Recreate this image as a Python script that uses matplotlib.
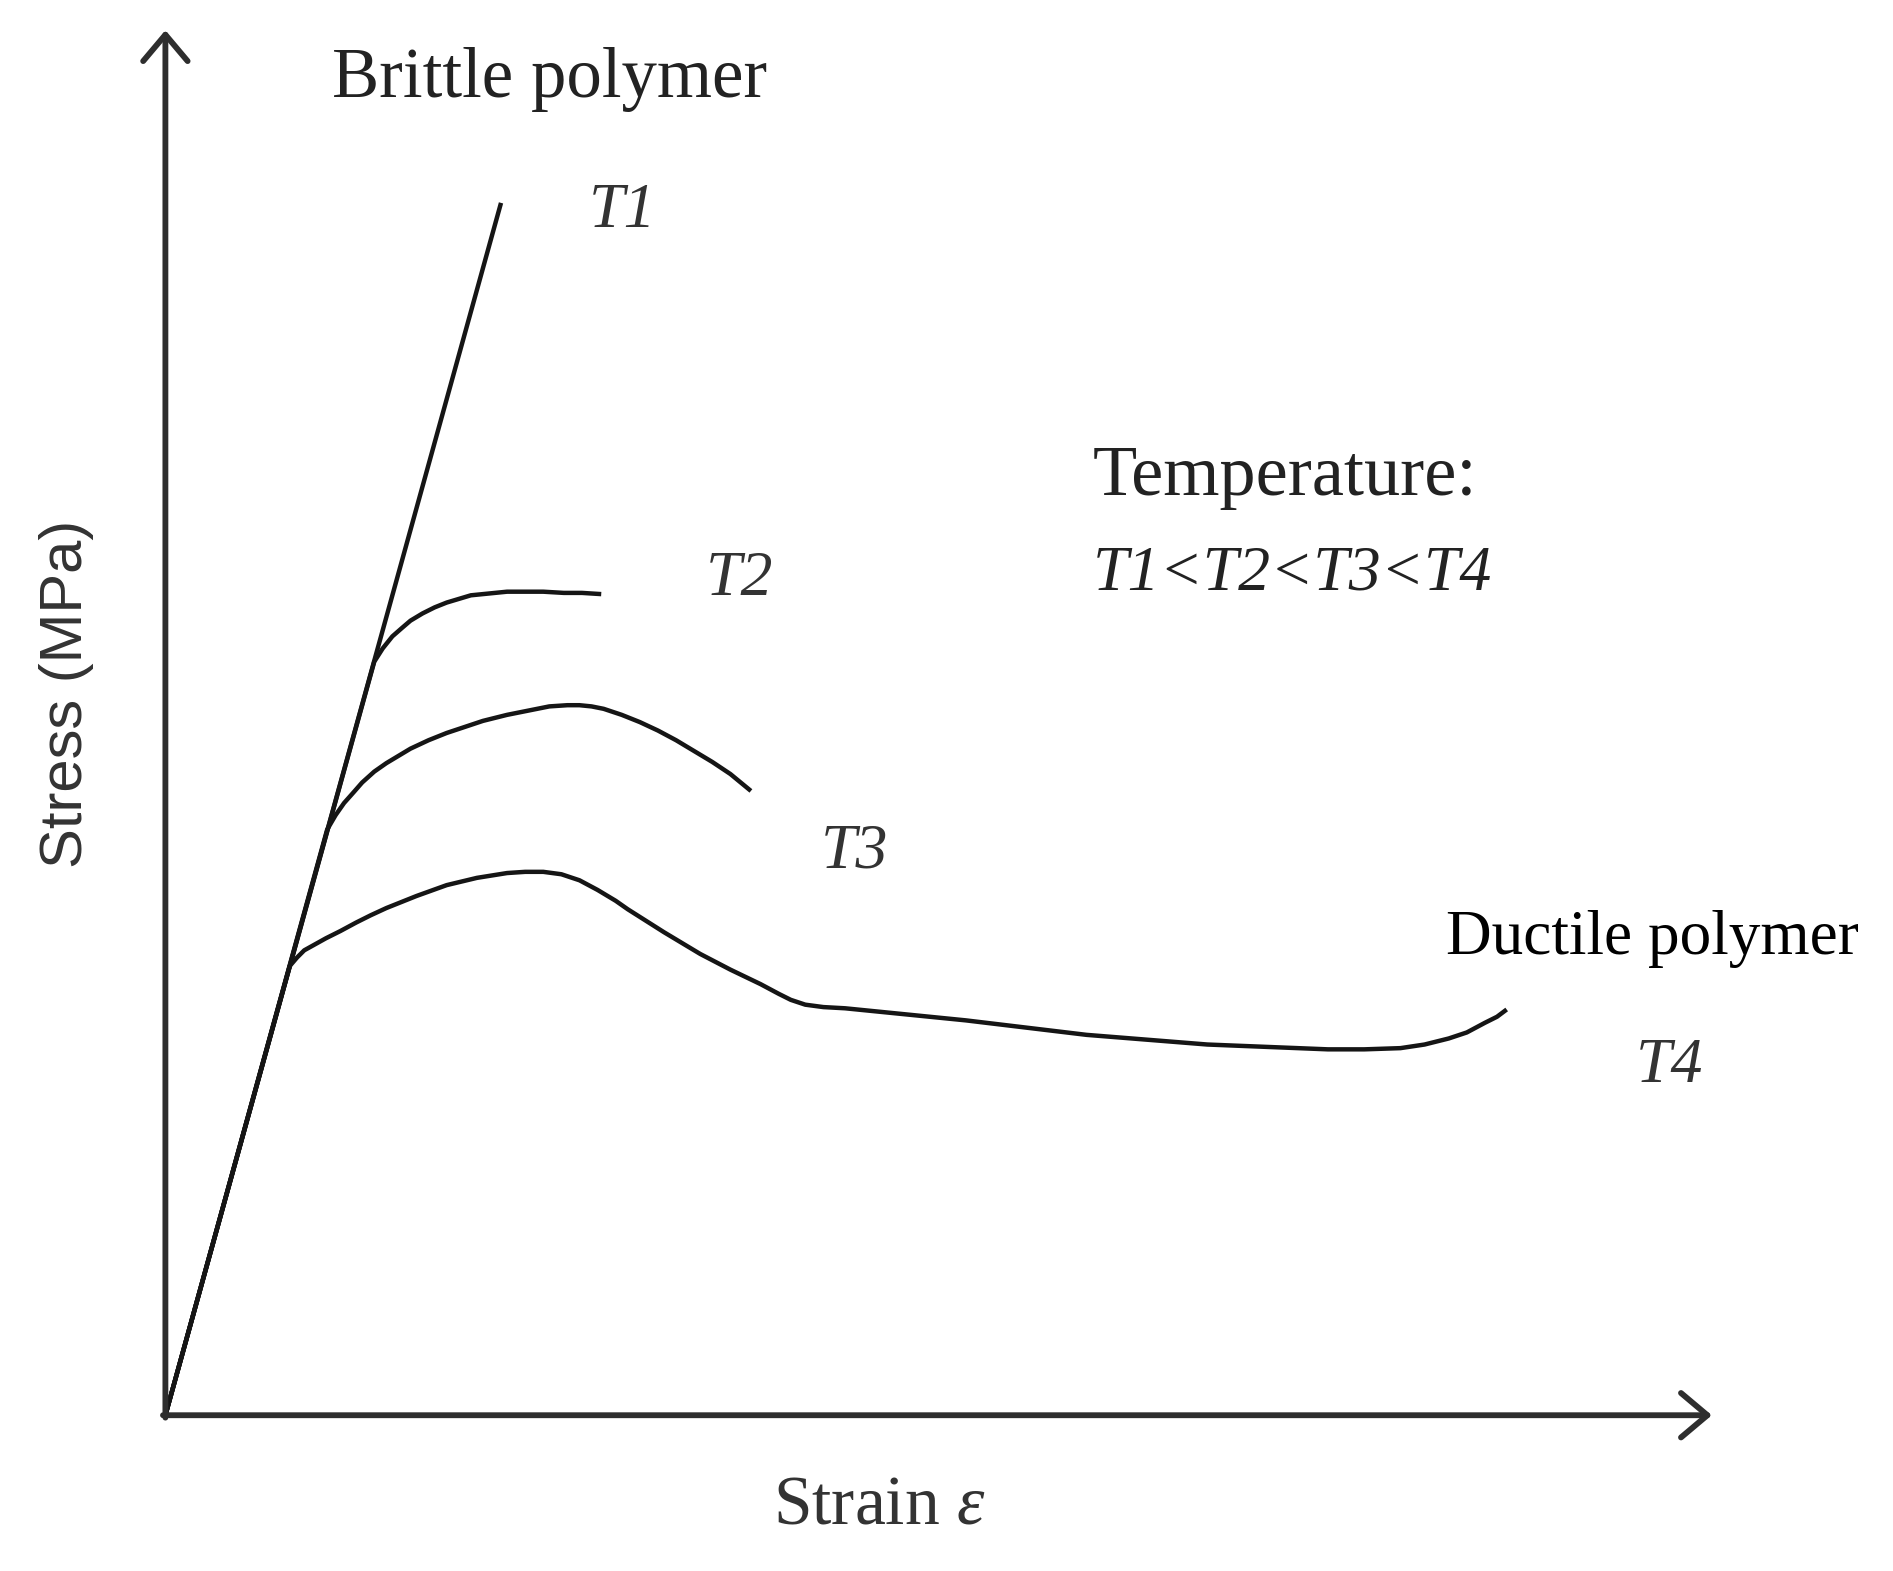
import matplotlib
matplotlib.use("Agg")
import matplotlib.pyplot as plt

# =========================
# DATA (strain / stress, arbitrary units)
# =========================
t1_strain = [0, 278]
t1_stress = [0, 1004]

t2_strain = [0, 173, 180, 188, 196, 203, 213, 223, 233, 243, 253, 263, 273, 283, 298, 313, 330, 345, 361]
t2_stress = [0, 624, 635, 645, 652, 658, 664, 669, 673, 676, 679, 680, 681, 682, 682, 682, 681, 681, 680]

t3_strain = [0, 134, 141, 148, 156, 163, 173, 183, 193, 203, 218, 233, 248, 263, 283, 303,
             318, 333, 343, 353, 363, 378, 393, 408, 423, 438, 453, 468, 485]
t3_stress = [0, 485, 497, 507, 516, 524, 533, 540, 546, 552, 559, 565, 570, 575, 580, 584,
             587, 588, 588, 587, 585, 580, 574, 567, 559, 550, 541, 531, 517]

t4_strain = [0, 103, 109, 115, 124, 133, 145, 158, 170, 183, 208, 233, 258, 283, 298, 313,
             328, 343, 358, 373, 383, 413, 443, 468, 493, 508, 518, 530, 545, 563,
             613, 663, 713, 763, 813, 863, 913, 963, 993, 1023, 1043, 1063, 1078, 1093, 1103, 1111]
t4_stress = [0, 372, 379, 385, 390, 395, 401, 408, 414, 420, 430, 439, 445, 449, 450, 450,
             448, 443, 435, 426, 419, 400, 382, 369, 357, 349, 344, 340, 338, 337,
             332, 327, 321, 315, 311, 307, 305, 303, 303, 304, 307, 312, 317, 325, 330, 336]

labels = ["T1", "T2", "T3", "T4"]
label_x = [351, 448, 543, 1218]
label_y = [984, 679, 454, 276]

# =========================
# PLOT
# =========================
plt.rcParams['mathtext.fontset'] = 'custom'
plt.rcParams['mathtext.rm'] = 'Liberation Serif'
plt.rcParams['mathtext.it'] = 'Liberation Serif:italic'

fig = plt.figure(figsize=(18.93, 15.71), dpi=100)
ax = fig.add_axes([0, 0, 1, 1])
ax.set_xlim(-137, 1431)
ax.set_ylim(-129, 1172)
ax.axis('off')

lw = 3.2
for xs, ys in [(t1_strain, t1_stress), (t2_strain, t2_stress),
               (t3_strain, t3_stress), (t4_strain, t4_stress)]:
    ax.plot(xs, ys, color='#151515', lw=lw, solid_capstyle='butt',
            solid_joinstyle='round')

# axes arrows
arrow = dict(arrowstyle='->,head_length=0.95,head_width=0.8', lw=4.2,
             color='#2e2e2e', mutation_scale=20, shrinkA=0, shrinkB=0)
ax.annotate('', xy=(0, 1147), xytext=(0, -2), arrowprops=arrow)
ax.annotate('', xy=(1281, 0), xytext=(-2, 0), arrowprops=arrow)

# labels
serif = 'Liberation Serif'
for lab, x, y in zip(labels, label_x, label_y):
    ax.text(x, y, lab, family=serif, style='italic', fontsize=46,
            color='#333333', ha='left', va='baseline')

ax.text(138, 1092, 'Brittle polymer', family=serif, fontsize=51,
        color='#222222', ha='left', va='baseline')
ax.text(768, 762, 'Temperature:', family=serif, fontsize=52,
        color='#222222', ha='left', va='baseline')
ax.text(768, 684, 'T1<T2<T3<T4', family=serif, style='italic', fontsize=46,
        color='#222222', ha='left', va='baseline')
ax.text(1061, 382, 'Ductile polymer', family=serif, fontsize=45.5,
        color='black', ha='left', va='baseline')
ax.text(503, -90, r'Strain $\varepsilon$', family=serif, fontsize=50,
        color='#333333', ha='left', va='baseline')
ax.text(-82, 597, 'Stress (MPa)', family='Liberation Sans', fontsize=43,
        color='#333333', rotation=90, ha='center', va='center')

fig.savefig('out.png', dpi=100)
